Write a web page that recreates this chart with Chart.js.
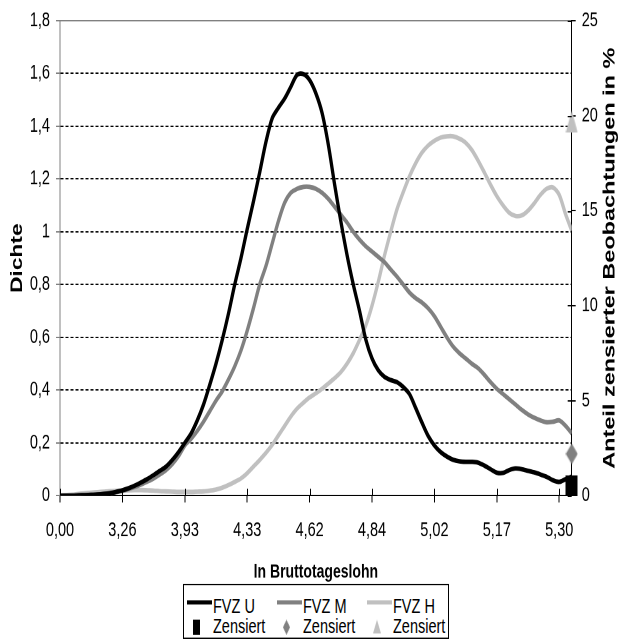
<!DOCTYPE html>
<html lang="de">
<head>
    <meta charset="UTF-8">
    <title>Dichte ln Bruttotageslohn</title>
    <script src="https://cdn.jsdelivr.net/npm/chart.js"></script>
    <style>
        html { margin: 0; padding: 0; overflow: hidden; background: #fff; }
        body { margin: 0; padding: 0; width: 621px; height: 639px; background: #fff; }
        /* Original ist vertikal gestreckt: Zeichnung in 621x463, dann auf 639 Hoehe skaliert */
        #stage { position: relative; width: 621px; height: 463px; transform-origin: 0 0; transform: scaleY(1.3801); }
        #chartBox { position: absolute; left: 0; top: 0; width: 621px; height: 463px; }
        #legend { position: absolute; left: 183px; top: 423px; width: 266px; height: 39.5px;
                  border: 1px solid #000; box-sizing: border-box; background: #fff;
                  font-family: "Liberation Sans", Arial, sans-serif; font-size: 14.5px; color: #000; }
        .ltext { position: absolute; line-height: 16px; white-space: nowrap; }
    </style>
</head>
<body>
    <div id="stage">
        <div id="chartBox"><canvas id="dichteChart"></canvas></div>
        <div id="legend"></div>
    </div>

    <script>
        // Achsenbeschriftung (ln Bruttotageslohn), 10 Stuetzstellen je Teilstrich
        const tickLabels = ['0,00', '3,26', '3,93', '4,33', '4,62', '4,84', '5,02', '5,17', '5,30'];
        const stepsPerTick = 10;

        // Dichten
        const fvzU = [
            0, 0, 0, 0.001, 0.002, 0.003, 0.004, 0.006, 0.009, 0.014,
            0.02, 0.028, 0.038, 0.05, 0.063, 0.078, 0.094, 0.11, 0.135, 0.165,
            0.2, 0.235, 0.285, 0.345, 0.42, 0.5, 0.59, 0.69, 0.8, 0.9,
            1.01, 1.115, 1.225, 1.34, 1.43, 1.47, 1.505, 1.55, 1.595, 1.598,
            1.575, 1.525, 1.45, 1.33, 1.18, 1.04, 0.912, 0.8, 0.7, 0.592,
            0.52, 0.475, 0.45, 0.438, 0.43, 0.412, 0.385, 0.332, 0.277, 0.226,
            0.19, 0.165, 0.148, 0.136, 0.13, 0.128, 0.128, 0.125, 0.114, 0.1,
            0.087, 0.086, 0.097, 0.103, 0.1, 0.094, 0.088, 0.08, 0.071, 0.058,
            0.052, 0.062, 0.072
        ];
        const fvzM = [
            0, 0, 0, 0.001, 0.002, 0.003, 0.004, 0.006, 0.009, 0.013,
            0.018, 0.025, 0.033, 0.042, 0.053, 0.065, 0.08, 0.097, 0.12, 0.15,
            0.19, 0.215, 0.245, 0.28, 0.32, 0.36, 0.395, 0.44, 0.49, 0.55,
            0.625, 0.71, 0.8, 0.87, 0.955, 1.04, 1.11, 1.148, 1.163, 1.17,
            1.17, 1.163, 1.148, 1.125, 1.095, 1.065, 1.035, 1.0, 0.97, 0.945,
            0.925, 0.905, 0.885, 0.857, 0.83, 0.8, 0.77, 0.748, 0.732, 0.71,
            0.68, 0.64, 0.6, 0.565, 0.54, 0.52, 0.5, 0.483, 0.458, 0.43,
            0.405, 0.385, 0.365, 0.345, 0.325, 0.308, 0.295, 0.285, 0.278, 0.28,
            0.285, 0.265, 0.236
        ];
        const fvzH = [
            0, 0.002, 0.004, 0.006, 0.009, 0.011, 0.013, 0.015, 0.017, 0.018,
            0.019, 0.02, 0.021, 0.021, 0.02, 0.019, 0.017, 0.016, 0.015, 0.014,
            0.014, 0.014, 0.015, 0.016, 0.019, 0.023, 0.03, 0.04, 0.052, 0.065,
            0.085, 0.11, 0.135, 0.162, 0.192, 0.228, 0.264, 0.3, 0.33, 0.352,
            0.372, 0.388, 0.405, 0.425, 0.445, 0.468, 0.5, 0.54, 0.59, 0.645,
            0.72, 0.81, 0.91, 1.0, 1.085, 1.15, 1.21, 1.26, 1.3, 1.327,
            1.345, 1.357, 1.362, 1.362, 1.353, 1.338, 1.31, 1.27, 1.225, 1.178,
            1.135, 1.1, 1.072, 1.06, 1.062, 1.08, 1.108, 1.14, 1.163, 1.168,
            1.14, 1.068, 1.005
        ];
        const seriesNames = ['FVZ U', 'FVZ M', 'FVZ H'];
        // Anteil zensierter Beobachtungen in % (rechte Achse)
        const censoredShare = [0.5, 2.2, 19.7];

        const seriesColors = ['#000000', '#808080', '#c0c0c0'];
        const markerShapes = ['square', 'diamond', 'triangle'];

        Chart.defaults.font.family = '"Liberation Sans", Arial, sans-serif';
        Chart.defaults.color = '#000';

        const lastIdx = fvzU.length - 1;
        const toXY = arr => arr.map((y, i) => ({ x: i, y: y }));
        const tickFont = { size: 14.5 };

        // Excel-artige Marker als kleine Canvas-Bilder
        function makeMarker(shape, color, w, h) {
            const c = document.createElement('canvas');
            c.width = w;
            c.height = h;
            const g = c.getContext('2d');
            g.fillStyle = color;
            g.beginPath();
            if (shape === 'square') {
                g.rect(0, 0, w, h);
            } else if (shape === 'diamond') {
                g.moveTo(w / 2, 0); g.lineTo(w, h / 2); g.lineTo(w / 2, h); g.lineTo(0, h / 2);
            } else {
                g.moveTo(w / 2, 0); g.lineTo(w, h); g.lineTo(0, h);
            }
            g.closePath();
            g.fill();
            return c;
        }

        const lineSets = [fvzU, fvzM, fvzH].map((arr, k) => ({
            label: seriesNames[k],
            data: toXY(arr),
            borderColor: seriesColors[k],
            backgroundColor: seriesColors[k],
            borderWidth: 3.3,
            pointRadius: 0,
            tension: 0.3,
            yAxisID: 'y',
            order: 1
        }));

        const markerSizes = [[12, 15], [12, 15], [12, 16]];
        const legendSizes = [[7, 11], [7, 11], [8, 10]];
        const markerSets = censoredShare.map((v, k) => ({
            label: 'Zensiert',
            data: [{ x: lastIdx, y: v }],
            borderColor: seriesColors[k],
            backgroundColor: seriesColors[k],
            showLine: false,
            pointStyle: makeMarker(markerShapes[k], seriesColors[k], markerSizes[k][0], markerSizes[k][1]),
            pointRadius: 6,
            clip: false,
            yAxisID: 'y2',
            order: 0,
            legendIcon: makeMarker(markerShapes[k], seriesColors[k], legendSizes[k][0], legendSizes[k][1])
        }));

        // Teilstriche, die in die Zeichenflaeche hineinragen
        const innerTicks = {
            id: 'innerTicks',
            afterDraw(chart) {
                const { ctx, chartArea: a, scales } = chart;
                ctx.save();
                ctx.lineWidth = 1;
                ctx.strokeStyle = '#000';
                ctx.beginPath();
                scales.x.ticks.forEach(t => {
                    const px = Math.round(scales.x.getPixelForValue(t.value)) + 0.5;
                    ctx.moveTo(px, a.bottom);
                    ctx.lineTo(px, a.bottom - 5);
                });
                scales.y2.ticks.forEach(t => {
                    const py = Math.round(scales.y2.getPixelForValue(t.value)) + 0.5;
                    ctx.moveTo(a.right, py);
                    ctx.lineTo(a.right - 4, py);
                });
                ctx.stroke();
                ctx.restore();
            }
        };

        // Titel der rechten Achse, von unten nach oben gelesen
        const rightTitle = {
            id: 'rightTitle',
            afterDraw(chart, args, opts) {
                const { ctx, chartArea: a } = chart;
                ctx.save();
                ctx.translate(opts.x, (a.top + a.bottom) / 2);
                ctx.rotate(-Math.PI / 2);
                ctx.font = 'bold 17px "Liberation Sans", Arial, sans-serif';
                ctx.fillStyle = '#000';
                ctx.textAlign = 'center';
                ctx.textBaseline = 'middle';
                ctx.fillText(opts.text, 0, 0);
                ctx.restore();
            }
        };

        // Legende als HTML im Excel-Raster (3 Spalten, 2 Zeilen)
        const htmlLegend = {
            id: 'htmlLegend',
            afterUpdate(chart) {
                const box = document.getElementById('legend');
                box.innerHTML = '';
                chart.data.datasets.forEach((ds, i) => {
                    const col = i % 3;
                    const row = Math.floor(i / 3);
                    const textLeft = 29 + col * 90;
                    const midY = row ? 30.3 : 14.8;
                    if (ds.showLine === false) {
                        const icon = ds.legendIcon;
                        icon.style.cssText = 'position:absolute;left:' + (textLeft - 16.2 - icon.width / 2) +
                            'px;top:' + (midY - icon.height / 2) + 'px';
                        box.appendChild(icon);
                    } else {
                        const bar = document.createElement('span');
                        bar.style.cssText = 'position:absolute;left:' + (textLeft - 25.7) + 'px;top:' +
                            (midY - 3.85) + 'px;width:24.4px;height:3.3px;background:' + ds.borderColor;
                        box.appendChild(bar);
                    }
                    const txt = document.createElement('span');
                    txt.className = 'ltext';
                    txt.textContent = ds.label;
                    txt.style.left = textLeft + 'px';
                    txt.style.top = (midY - 8) + 'px';
                    box.appendChild(txt);
                });
            }
        };

        const ctx = document.getElementById('dichteChart').getContext('2d');
        const chart = new Chart(ctx, {
            type: 'line',
            data: { datasets: lineSets.concat(markerSets) },
            options: {
                responsive: true,
                maintainAspectRatio: false,
                animation: false,
                devicePixelRatio: 2,
                layout: { padding: { top: 15, right: 0, bottom: 40.2, left: 0 } },
                plugins: {
                    legend: { display: false },
                    tooltip: { enabled: false },
                    rightTitle: { x: 610, text: 'Anteil zensierter Beobachtungen in %' }
                },
                scales: {
                    x: {
                        type: 'linear',
                        min: 0,
                        max: lastIdx,
                        afterFit: s => { s.height = 63.7; },
                        border: { color: '#000', width: 1 },
                        grid: { drawOnChartArea: false, tickLength: 5, tickColor: '#000' },
                        ticks: {
                            stepSize: stepsPerTick,
                            includeBounds: false,
                            autoSkip: false,
                            maxRotation: 0,
                            padding: 11.6,
                            font: tickFont,
                            callback: v => tickLabels[v / stepsPerTick]
                        },
                        title: {
                            display: true,
                            text: 'ln Bruttotageslohn',
                            font: { size: 14, weight: 'bold' },
                            padding: { top: 0, bottom: 0 }
                        }
                    },
                    xTop: {
                        type: 'linear',
                        position: 'top',
                        min: 0,
                        max: lastIdx,
                        afterFit: s => { s.height = 0; },
                        border: { color: '#808080', width: 1 },
                        grid: { display: false, drawTicks: false },
                        ticks: { display: false }
                    },
                    y: {
                        position: 'left',
                        min: 0,
                        max: 1.8,
                        afterFit: s => { s.width = 60; },
                        border: { color: '#808080', width: 1, dash: [3, 2] },
                        grid: {
                            color: c => (c.tick && c.tick.value > 0 && c.tick.value < 1.79) ? '#000' : 'rgba(0,0,0,0)',
                            lineWidth: 1,
                            tickLength: 4,
                            tickColor: '#808080',
                            tickBorderDash: []
                        },
                        ticks: {
                            stepSize: 0.2,
                            padding: 6,
                            font: tickFont,
                            callback: v => v.toLocaleString('de-DE')
                        },
                        title: {
                            display: true,
                            text: 'Dichte',
                            font: { size: 16.5, weight: 'bold' },
                            padding: { top: 7.6, bottom: 0 }
                        }
                    },
                    y2: {
                        position: 'right',
                        min: 0,
                        max: 25,
                        afterFit: s => { s.width = 49.3; },
                        border: { color: '#000', width: 1 },
                        grid: { drawOnChartArea: false, tickLength: 4, tickColor: '#000' },
                        ticks: { stepSize: 5, padding: 6, font: tickFont }
                    }
                }
            },
            plugins: [innerTicks, rightTitle, htmlLegend]
        });
    </script>
</body>
</html>
